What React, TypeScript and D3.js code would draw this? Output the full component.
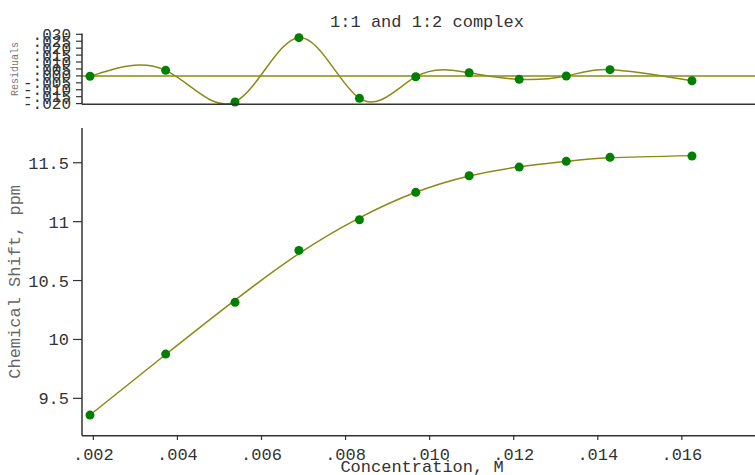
import * as d3 from "d3";

// concentration, M
const conc = [0.00192, 0.00372, 0.00537, 0.00689, 0.00833, 0.00967, 0.01094, 0.01213, 0.01325, 0.01429, 0.01624];
// observed chemical shift, ppm
const shift = [9.358, 9.876, 10.315, 10.756, 11.016, 11.249, 11.39, 11.463, 11.512, 11.546, 11.557];
// residuals (observed - calculated)
const resid = [-0.0003, 0.004, -0.0188, 0.0276, -0.0162, -0.0006, 0.0023, -0.0025, -0.0001, 0.0045, -0.0035];

const xTicks = [0.002, 0.004, 0.006, 0.008, 0.01, 0.012, 0.014, 0.016];
const yTicks = [9.5, 10, 10.5, 11, 11.5];
const rTicks = [0.03, 0.025, 0.02, 0.015, 0.01, 0.005, 0, -0.005, -0.01, -0.015, -0.02];

const W = 755;
const H = 475;
const FONT = "'Liberation Mono', 'Courier New', monospace";
const LINE = "#8a8a14";
const DOT = "#008000";
const AXIS = "#333";

const App = () => {
  const x = d3.scaleLinear().domain([0.00173, 0.01774]).range([82, 755]);
  const y = d3.scaleLinear().domain([9.183, 11.795]).range([435.7, 128]);
  const yr = d3.scaleLinear().domain([-0.0205, 0.03]).range([104.3, 34.3]);

  const pts = conc.map((c, i) => ({ c, s: shift[i], r: resid[i], f: shift[i] - resid[i] }));

  const fitLine = d3.line<any>().x(d => x(d.c)).y(d => y(d.f)).curve(d3.curveNatural);
  const resLine = d3.line<any>().x(d => x(d.c)).y(d => yr(d.r)).curve(d3.curveNatural);

  const fmtX = (v: number) => v.toFixed(3).replace(/^0/, "");
  const fmtR = (v: number) => (v < 0 ? "-" : "") + Math.abs(v).toFixed(3).replace(/^0/, "");

  return (
    <svg width={W} height={H} style={{ position: "absolute", left: 0, top: 0, background: "#fff" }}
      fontFamily={FONT}>
      {/* title */}
      <text x={427} y={27} textAnchor="middle" fontSize={17} fill={AXIS}>1:1 and 1:2 complex</text>

      {/* residual panel */}
      <line x1={82} x2={W} y1={yr(0)} y2={yr(0)} stroke={LINE} strokeWidth={1.5} />
      <path d={resLine(pts) || ""} fill="none" stroke={LINE} strokeWidth={1.5} />
      {pts.map((d, i) => (
        <circle key={"r" + i} cx={x(d.c)} cy={yr(d.r)} r={4.5} fill={DOT} />
      ))}
      <line x1={82} x2={82} y1={33.5} y2={104.3} stroke={AXIS} strokeWidth={1.5} />
      <line x1={82} x2={W} y1={104.3} y2={104.3} stroke={AXIS} strokeWidth={1.5} />
      {rTicks.map(t => (
        <g key={"rt" + t}>
          <line x1={76} x2={82} y1={yr(t)} y2={yr(t)} stroke={AXIS} strokeWidth={1.2} />
          <text x={71} y={yr(t)} dy="0.35em" textAnchor="end" fontSize={16} fill={AXIS}>{fmtR(t)}</text>
        </g>
      ))}
      <text transform={`translate(18,${yr(0.005)}) rotate(-90)`} textAnchor="middle" fontSize={10} fill="#777">
        Residuals
      </text>

      {/* main panel */}
      <path d={fitLine(pts) || ""} fill="none" stroke={LINE} strokeWidth={1.5} />
      {pts.map((d, i) => (
        <circle key={"p" + i} cx={x(d.c)} cy={y(d.s)} r={4.5} fill={DOT} />
      ))}
      <line x1={82} x2={82} y1={128} y2={435.7} stroke={AXIS} strokeWidth={1.5} />
      <line x1={82} x2={W} y1={435.7} y2={435.7} stroke={AXIS} strokeWidth={1.5} />
      {yTicks.map(t => (
        <g key={"yt" + t}>
          <line x1={73} x2={82} y1={y(t)} y2={y(t)} stroke={AXIS} strokeWidth={1.2} />
          <text x={69} y={y(t)} dy="0.35em" textAnchor="end" fontSize={17} fill={AXIS}>{String(t)}</text>
        </g>
      ))}
      {xTicks.map(t => (
        <g key={"xt" + t}>
          <line x1={x(t)} x2={x(t)} y1={435.7} y2={440} stroke={AXIS} strokeWidth={1.2} />
          <text x={x(t)} y={460} textAnchor="middle" fontSize={17} fill={AXIS}>{fmtX(t)}</text>
        </g>
      ))}
      <text x={422} y={472} textAnchor="middle" fontSize={17} fill={AXIS}>Concentration, M</text>
      <text transform={`translate(20,${(128 + 435.7) / 2}) rotate(-90)`} textAnchor="middle" fontSize={17} fill="#666">
        Chemical Shift, ppm
      </text>
    </svg>
  );
};

export default App;
